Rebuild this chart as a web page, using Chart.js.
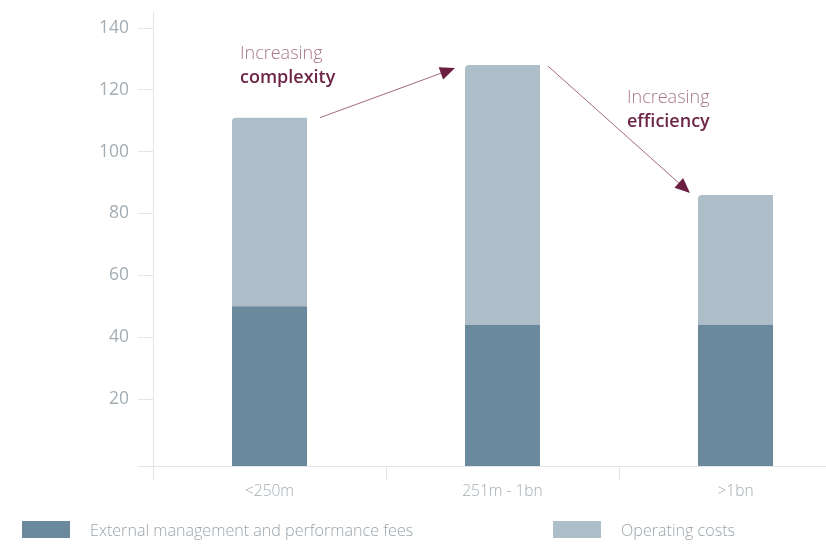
<!DOCTYPE html>
<html>
<head>
<meta charset="utf-8">
<script src="https://cdn.jsdelivr.net/npm/chart.js@4/dist/chart.umd.min.js"></script>
<style>
  html, body { margin: 0; padding: 0; background: #ffffff; overflow: hidden; }
  #wrap { position: relative; width: 826px; height: 549px; overflow: hidden; }
  #box { position: absolute; left: 0; top: 0; width: 852px; height: 549px; }
  .lg { position: absolute; top: 521px; height: 17px; display: flex; align-items: center;
        font-family: "Open Sans", sans-serif; font-weight: 300; font-size: 16.1px; color: #9aa5ab; white-space: nowrap; }
  .lg .sw { width: 48px; height: 17px; margin-right: 20px; }
</style>
</head>
<body>
<div id="wrap">
  <div id="box"><canvas id="c" width="852" height="549"></canvas></div>
  <div id="legend"></div>
</div>
<script>
// ---- data ----
const categories = ['<250m', '251m - 1bn', '>1bn'];
const feesValues = [50, 44, 44];
const operatingValues = [61, 84, 42];
const seriesLabels = ['External management and performance fees', 'Operating costs'];
const yTickValues = [20, 40, 60, 80, 100, 120, 140];
const annotationTexts = [['Increasing', 'complexity'], ['Increasing', 'efficiency']];

// ---- styling / axis settings ----
const Y_MIN = -1.67;
const Y_MAX = 145.18;
const DARK = '#6b899c';
const LIGHT = '#adbec8';
const AXIS = '#e1e5e8';
const TICKTXT = '#a3adb3';

const darkData = categories.map((c, i) => [Y_MIN, feesValues[i]]);
const lightData = categories.map((c, i) => [feesValues[i], feesValues[i] + operatingValues[i]]);

function arrow(ctx, x1, y1, x2, y2) {
  const ang = Math.atan2(y2 - y1, x2 - x1);
  const L = 15, W = 6.5;
  const bx = x2 - L * Math.cos(ang), by = y2 - L * Math.sin(ang);
  ctx.save();
  ctx.strokeStyle = '#a06a80';
  ctx.lineWidth = 1;
  ctx.beginPath();
  ctx.moveTo(x1, y1);
  ctx.lineTo(bx, by);
  ctx.stroke();
  ctx.fillStyle = '#6b1f40';
  ctx.beginPath();
  ctx.moveTo(x2, y2);
  ctx.lineTo(bx - W * Math.sin(ang), by + W * Math.cos(ang));
  ctx.lineTo(bx + W * Math.sin(ang), by - W * Math.cos(ang));
  ctx.closePath();
  ctx.fill();
  ctx.restore();
}

function label2(ctx, x, y, lines) {
  ctx.save();
  ctx.textAlign = 'left';
  ctx.textBaseline = 'middle';
  ctx.font = '300 18px "Open Sans"';
  ctx.fillStyle = '#a8768b';
  ctx.fillText(lines[0], x, y);
  ctx.font = '600 18px "Open Sans"';
  ctx.fillStyle = '#6d2646';
  ctx.fillText(lines[1], x, y + 24);
  ctx.restore();
}

const annotations = {
  id: 'annotations',
  afterDatasetsDraw(chart) {
    const ctx = chart.ctx;
    const bars = chart.getDatasetMeta(1).data;
    const b1 = bars[0], b2 = bars[1], b3 = bars[2];
    arrow(ctx, b1.x + b1.width / 2 + 13, b1.y, b2.x - b2.width / 2 - 10, b2.y + 3);
    arrow(ctx, b2.x + b2.width / 2 + 8, b2.y + 1, b3.x - b3.width / 2 - 8, b3.y - 2);
    label2(ctx, b1.x - b1.width / 2 + 8, b1.y - 64, annotationTexts[0]);
    label2(ctx, b3.x - b3.width / 2 - 71, b3.y - 97, annotationTexts[1]);
  }
};

const chart = new Chart(document.getElementById('c'), {
  type: 'bar',
  data: {
    labels: categories,
    datasets: [
      { label: seriesLabels[0], data: darkData, backgroundColor: DARK, borderWidth: 0,
        borderSkipped: false, borderRadius: 0 },
      { label: seriesLabels[1], data: lightData, backgroundColor: LIGHT, borderWidth: 0,
        borderSkipped: false, borderRadius: { topLeft: 4, topRight: 0, bottomLeft: 0, bottomRight: 0 } }
    ]
  },
  options: {
    responsive: false,
    animation: false,
    layout: { padding: { top: 12, left: 0, right: 0, bottom: 0 } },
    datasets: { bar: { grouped: false, categoryPercentage: 1, barPercentage: 0.322 } },
    plugins: { legend: { display: false }, tooltip: { enabled: false } },
    scales: {
      x: {
        offset: true,
        grid: { offset: true, drawOnChartArea: false, drawTicks: true, tickLength: 14, color: AXIS, lineWidth: 1 },
        border: { display: true, color: AXIS, width: 1 },
        ticks: { color: TICKTXT, font: { family: 'Open Sans', size: 15.5, weight: 300 }, padding: 2, maxRotation: 0 },
        afterFit(s) { s.height = 83; s.paddingLeft = 0; s.paddingRight = 0; }
      },
      y: {
        min: Y_MIN, max: Y_MAX,
        grid: { drawOnChartArea: false, drawTicks: true, tickLength: 15, color: AXIS, lineWidth: 1 },
        border: { display: true, color: AXIS, width: 1 },
        ticks: {
          color: TICKTXT, font: { family: 'Open Sans', size: 17.5, weight: 400 }, padding: 9,
          callback: (v) => (yTickValues.includes(v) ? String(v) : '')
        },
        afterBuildTicks(s) { s.ticks = [{ value: s.min }].concat(yTickValues.map(v => ({ value: v }))); },
        afterFit(s) { s.width = 153; s.paddingTop = 0; s.paddingBottom = 0; }
      }
    }
  },
  plugins: [annotations]
});

// HTML legend built from the datasets
const legendLeft = [22, 553];
const lg = document.getElementById('legend');
chart.data.datasets.forEach((ds, i) => {
  const d = document.createElement('div');
  d.className = 'lg';
  d.style.left = legendLeft[i] + 'px';
  const sw = document.createElement('span');
  sw.className = 'sw';
  sw.style.background = ds.backgroundColor;
  const t = document.createElement('span');
  t.textContent = ds.label;
  d.appendChild(sw); d.appendChild(t);
  lg.appendChild(d);
});
</script>
</body>
</html>
